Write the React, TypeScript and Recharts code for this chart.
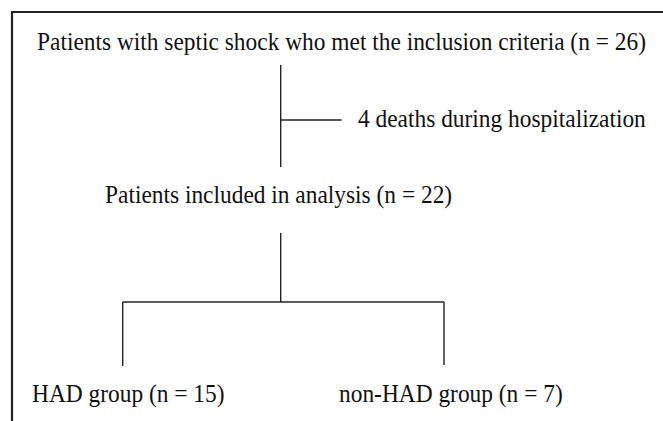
import React from "react";
import { ScatterChart, Scatter, XAxis, YAxis, ReferenceLine } from "recharts";

// Flow-chart content
const nodeLabels = [
  "Patients with septic shock who met the inclusion criteria",
  "deaths during hospitalization",
  "Patients included in analysis",
  "HAD group",
  "non-HAD group",
];
const nodeCounts = [26, 4, 22, 15, 7];
const nodeStyle = ["n", "lead", "n", "n", "n"];

// Layout (data coordinates of the canvas: x 0..663, y 0..421, baseline anchors)
const nodeX = [37, 358, 105, 32, 339];
const nodeY = [50, 127, 203, 402, 402];

// Connectors: [x1, y1, x2, y2]
const connectors = [
  [280.7, 65, 280.7, 167],
  [280.7, 120, 341.7, 120],
  [280.7, 233, 280.7, 302],
  [122.7, 302, 444, 302],
  [122.7, 302, 122.7, 366],
  [444, 302, 444, 365],
];

// Frame
const frame = [
  [11, 12, 663, 12],
  [12, 11, 12, 421],
];

const W = 663;
const H = 421;

const nodes = nodeLabels.map((label, i) => ({
  x: nodeX[i],
  y: nodeY[i],
  text:
    nodeStyle[i] === "lead"
      ? `${nodeCounts[i]} ${label}`
      : `${label} (n = ${nodeCounts[i]})`,
}));

const TextShape = (props: any) => {
  const { cx, cy, payload } = props;
  return (
    <g transform={`translate(${cx},${cy}) scale(1,1.05)`}>
      <text
        x={0}
        y={0}
        textAnchor="start"
        fontFamily="'Liberation Serif', 'Times New Roman', serif"
        fontSize={23.4}
        fill="#111"
      >
        {payload.text}
      </text>
    </g>
  );
};

export default function App() {
  return (
    <div style={{ position: "absolute", left: 0, top: 0, width: W, height: H, background: "#fff" }}>
      <ScatterChart width={W} height={H} margin={{ top: 0, right: 0, bottom: 0, left: 0 }}>
        <XAxis type="number" dataKey="x" domain={[0, W]} hide allowDataOverflow />
        <YAxis type="number" dataKey="y" domain={[0, H]} reversed hide allowDataOverflow />
        {frame.map((s, i) => (
          <ReferenceLine
            key={"f" + i}
            segment={[{ x: s[0], y: s[1] }, { x: s[2], y: s[3] }]}
            stroke="#222"
            strokeWidth={2.2}
            ifOverflow="visible"
          />
        ))}
        {connectors.map((s, i) => (
          <ReferenceLine
            key={"c" + i}
            segment={[{ x: s[0], y: s[1] }, { x: s[2], y: s[3] }]}
            stroke="#222"
            strokeWidth={1.4}
            ifOverflow="visible"
          />
        ))}
        <Scatter data={nodes} shape={<TextShape />} isAnimationActive={false} />
      </ScatterChart>
    </div>
  );
}
